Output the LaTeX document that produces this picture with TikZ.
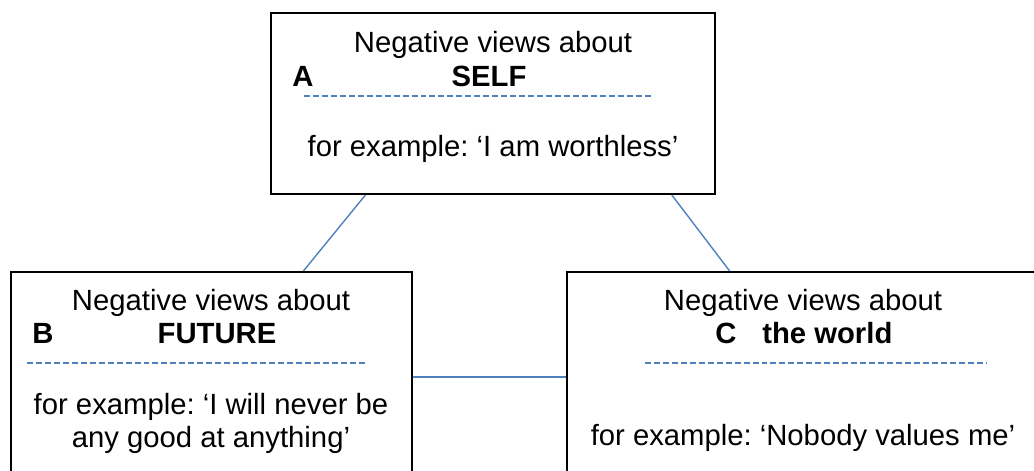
\documentclass[tikz,border=0pt]{standalone}
\usepackage{fontspec}
\setmainfont{Liberation Sans}
\usetikzlibrary{calc}
\definecolor{ltblue}{RGB}{79,129,189}
\frenchspacing

\begin{document}
\begin{tikzpicture}[x=0.2mm,y=-0.2mm,draw=black!100]
	\def \headln{52}
	\def \titleln{86}
	\def \lowhead{310}
	\def \lowtitle{343}
	\tikzstyle{box}=[rectangle,draw=black!100,line width=1.1pt,inner sep=0pt]
	\tikzstyle{txt}=[inner sep=0pt,anchor=base,font=\fontsize{16.65pt}{18.8pt}\selectfont]
	\tikzstyle{btxt}=[inner sep=0pt,anchor=base,font=\fontsize{16.65pt}{18.8pt}\selectfont\bfseries]
	\tikzstyle{link}=[draw=ltblue,line width=0.8pt]
	\tikzstyle{rule}=[draw=ltblue,line width=0.8pt,dash pattern=on 3.4pt off 1.7pt]

	\path[use as bounding box,clip] (0,0) rectangle (1034,471);

	% boxes
	\node[box,minimum width=88.8mm,minimum height=36.2mm] 	(self)	at (493,103.5)	{};
	\node[box,minimum width=80.2mm,minimum height=42mm] 	(fut)	at (211.5,377)	{};
	\node[box,minimum width=100mm,minimum height=42mm] 	(wor)	at (817,377)	{};

	% self
	\node[txt] 	(selfhd)	at (493,\headln)	{Negative views about};
	\node[btxt,anchor=base west] 	(selfl)	at (292,\titleln)	{A};
	\node[btxt] 	(selft)	at (489,\titleln)	{SELF};
	\node[txt] 	(selfex)	at (493,156)	{for example: ‘I am worthless’};
	\draw[rule] (304,96) -- (653,96);

	% future
	\node[txt] 	(futhd)	at (211,\lowhead)	{Negative views about};
	\node[btxt,anchor=base west] 	(futl)	at (32,\lowtitle)	{B};
	\node[btxt] 	(futt)	at (217,\lowtitle)	{FUTURE};
	\node[txt] 	(futexa)	at (211,414)	{for example: ‘I will never be};
	\node[txt] 	(futexb)	at (211,447)	{any good at anything’};
	\draw[rule] (27,363) -- (367,363);

	% world
	\node[txt] 	(worhd)	at (803,\lowhead)	{Negative views about};
	\node[btxt,anchor=base west] 	(worl)	at (715,\lowtitle)	{C};
	\node[btxt,anchor=base west] 	(wort)	at (762,\lowtitle)	{the world};
	\node[txt] 	(worex)	at (803,445)	{for example: ‘Nobody values me’};
	\draw[rule] (645,363) -- (987,363);

	% links
	\draw[link] ($(self.south west)!0.214!(self.south east)$) -- ($(fut.north west)!0.728!(fut.north east)$);
	\draw[link] ($(self.south west)!0.901!(self.south east)$) -- ($(wor.north west)!0.326!(wor.north east)$);
	\draw[link] (fut.east) -- (wor.west);
\end{tikzpicture}
\end{document}
